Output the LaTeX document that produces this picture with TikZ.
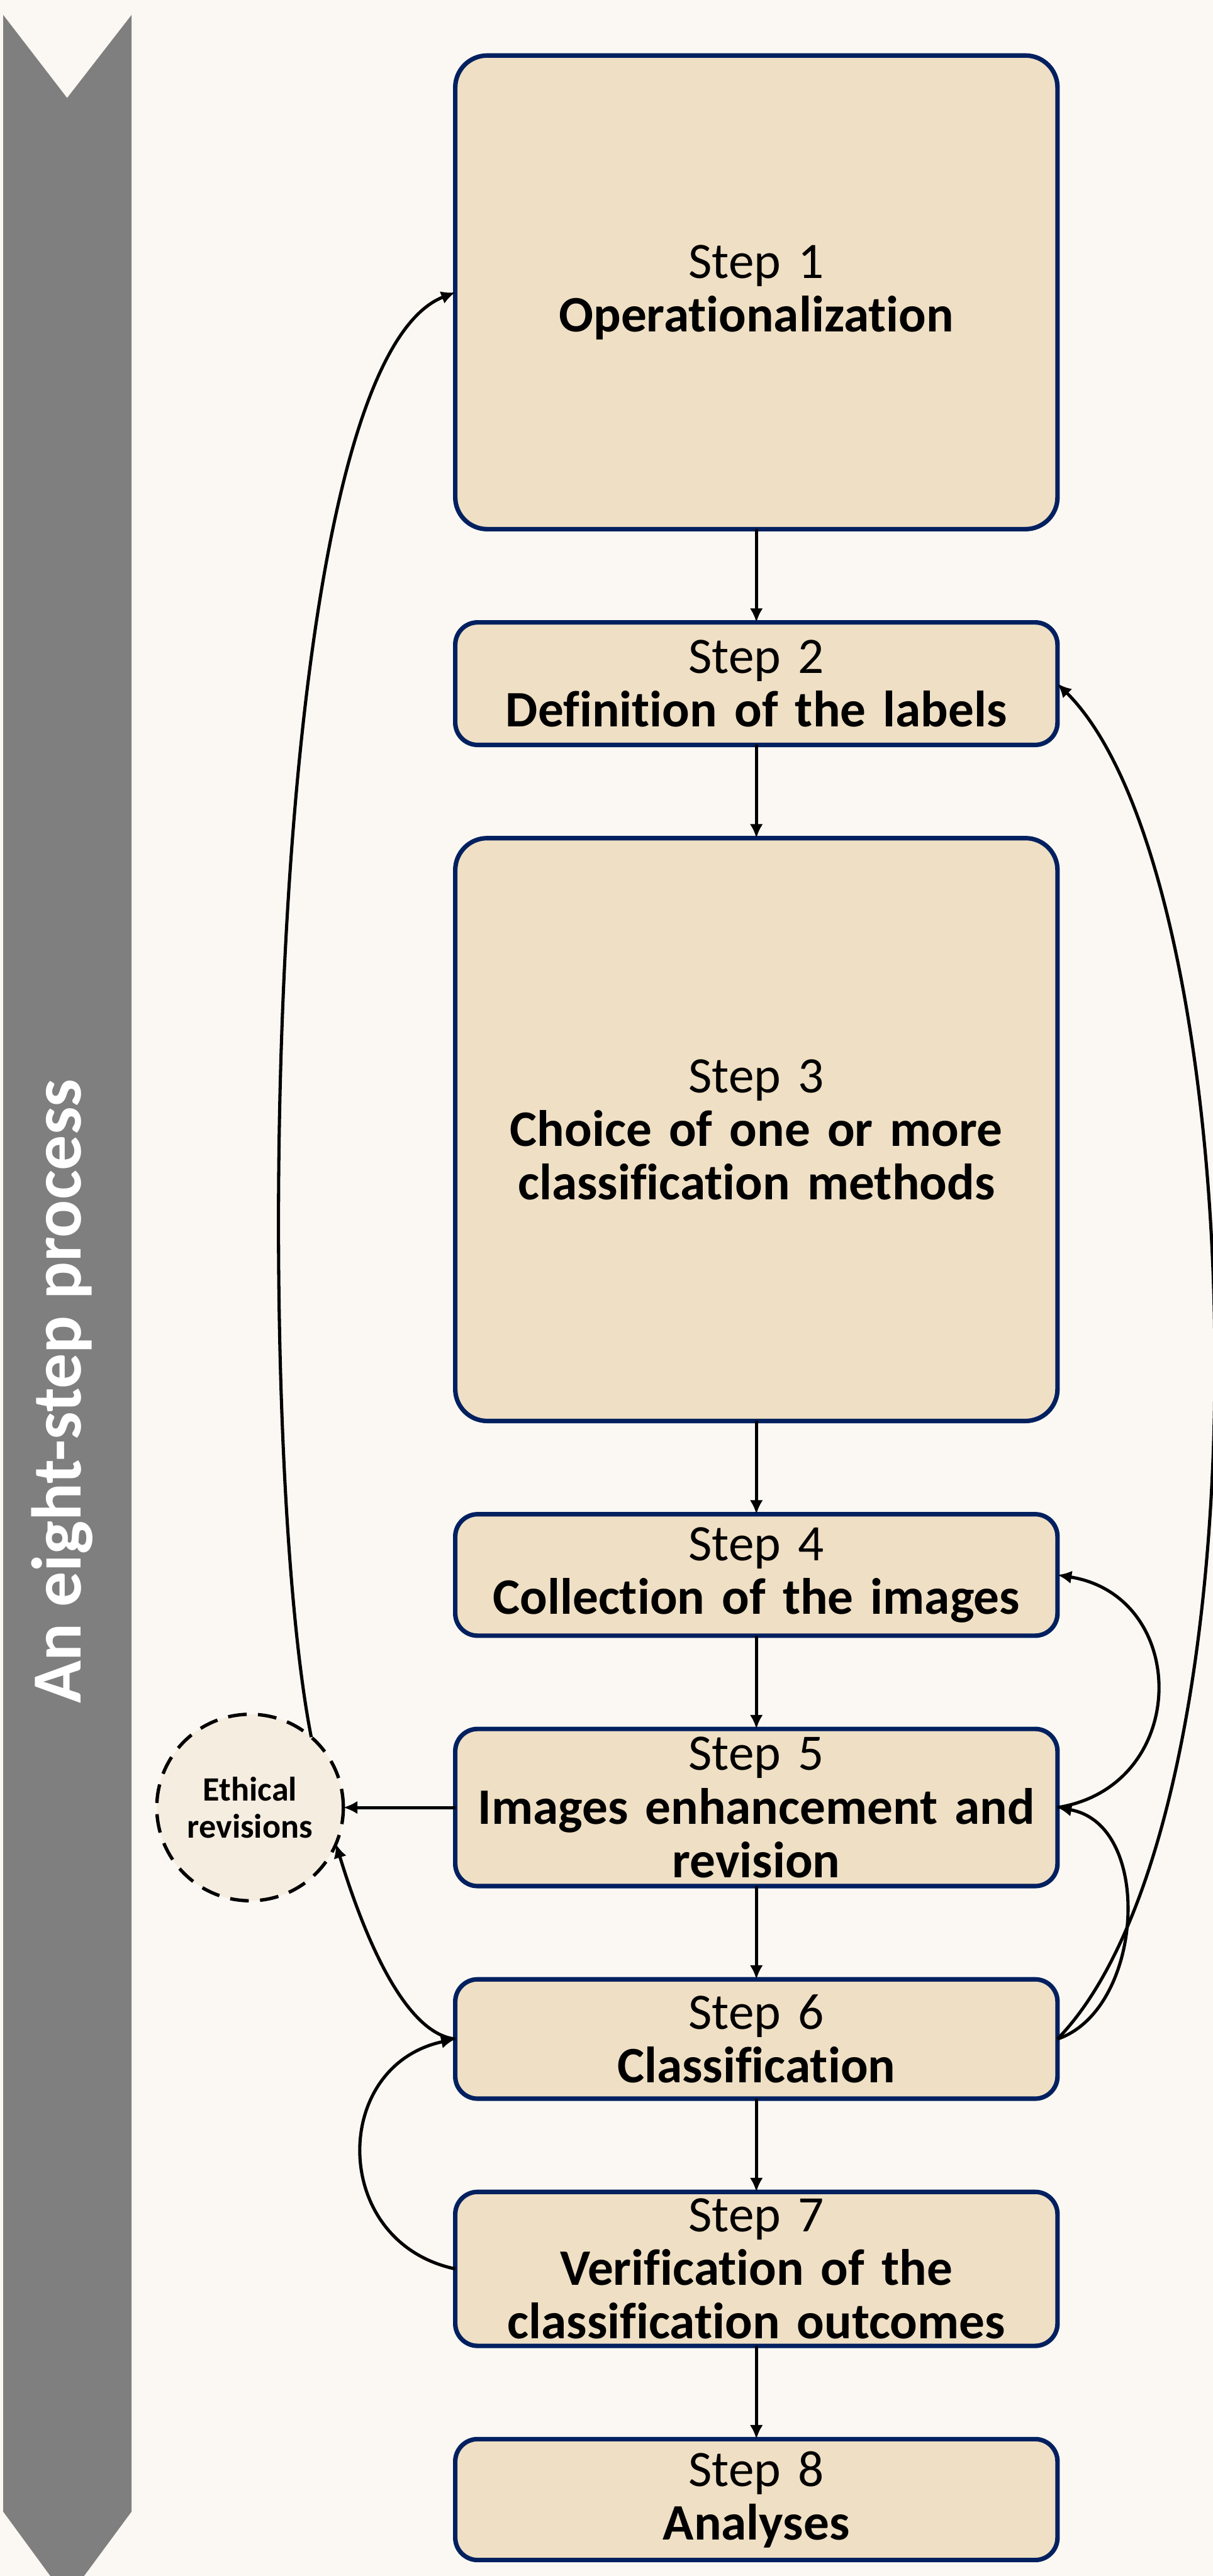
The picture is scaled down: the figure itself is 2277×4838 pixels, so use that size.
\documentclass[tikz,border=0pt]{standalone}
\usepackage{fontspec}
\setmainfont{Carlito}[Ligatures=NoCommon]
\usetikzlibrary{arrows.meta,calc,positioning}
\definecolor{boxline}{HTML}{002060}
\definecolor{boxfill}{HTML}{EFDFC4}
\definecolor{ethfill}{HTML}{F5EDE0}
\definecolor{bgcol}{HTML}{FBF8F3}
\definecolor{band}{HTML}{7F7F7F}

\begin{document}
\begin{tikzpicture}[x=0.01cm,y=0.01cm,
  block/.style={draw=boxline,fill=boxfill,line width=2.4pt,rounded corners=0.42cm,
    text width=10.8cm,inner xsep=0.25cm,inner ysep=0pt,align=center,outer sep=0pt,
    font=\fontsize{27.3}{28.6}\selectfont},
  ethic/.style={circle,draw,fill=ethfill,line width=1.8pt,dash pattern=on 10pt off 6pt,
    minimum size=3.5cm,inner sep=0pt,outer sep=0pt,align=center,
    font=\fontsize{18.2}{19.6}\selectfont\bfseries},
  arr/.style={-{Latex[length=7.5pt,width=7pt]},line width=1.7pt},
  node distance=1.75cm]

        \clip (0,0) rectangle (2277,-4838);
        \fill[bgcol] (0,0) rectangle (2277,-4838);

        \fill[band] (6,-28) -- (126,-184) -- (247,-28) -- (247,-4717)
          -- (126,-4881) -- (6,-4717) -- cycle;
        \node[rotate=90,anchor=base,text=white,font=\fontsize{37.6}{40}\selectfont\bfseries]
          (title) at (152,-2613) {An eight-step process};

        \node[block,minimum height=8.89cm,rounded corners=0.6cm] (s1) at (1420,-549)
          {Step 1\\\textbf{Operationalization}};
        \node[block,minimum height=2.3cm,below=of s1] (s2)
          {Step 2\\\textbf{Definition of the labels}};
        \node[block,minimum height=10.94cm,rounded corners=0.6cm,below=of s2] (s3)
          {Step 3\\\textbf{Choice of one or more}\\\textbf{classification methods}};
        \node[block,minimum height=2.28cm,below=of s3] (s4)
          {Step 4\\\textbf{Collection of the images}};
        \node[block,minimum height=2.95cm,below=of s4] (s5)
          {Step 5\\\textbf{Images enhancement and}\\\textbf{revision}};
        \node[block,minimum height=2.24cm,below=of s5] (s6)
          {Step 6\\\textbf{Classification}};
        \node[block,minimum height=2.89cm,below=of s6] (s7)
          {Step 7\\\textbf{Verification of the}\\\textbf{classification outcomes}};
        \node[block,minimum height=2.27cm,below=of s7] (s8)
          {Step 8\\\textbf{Analyses}};

        \node[ethic,left=2.1cm of s5] (eth) {Ethical\\revisions};

        \foreach \a/\b in {s1/s2,s2/s3,s3/s4,s4/s5,s5/s6,s6/s7,s7/s8}
          \draw[arr] (\a) -- (\b);

        \draw[arr] (s5.west) -- (eth.east);
        \draw[arr] (s6.west) .. controls +(-113,12) and +(30,-97) .. (eth.-23);
        \draw[arr] (eth.49) .. controls +(-110,560) and +(-368,-143) .. (s1.west);
        \draw[arr] (s7.west) .. controls +(-235,50) and +(-235,-50) .. (s6.west);

        \draw[arr] (s5.east) .. controls +(250,40) and +(250,-40) .. (s4.east);
        \draw[arr] (s6.east) .. controls +(162,55) and +(182,-32) .. (s5.east);
        \draw[arr] (s6.east) .. controls +(412,425) and +(370,-368) .. (s2.east);
      \end{tikzpicture}
\end{document}
